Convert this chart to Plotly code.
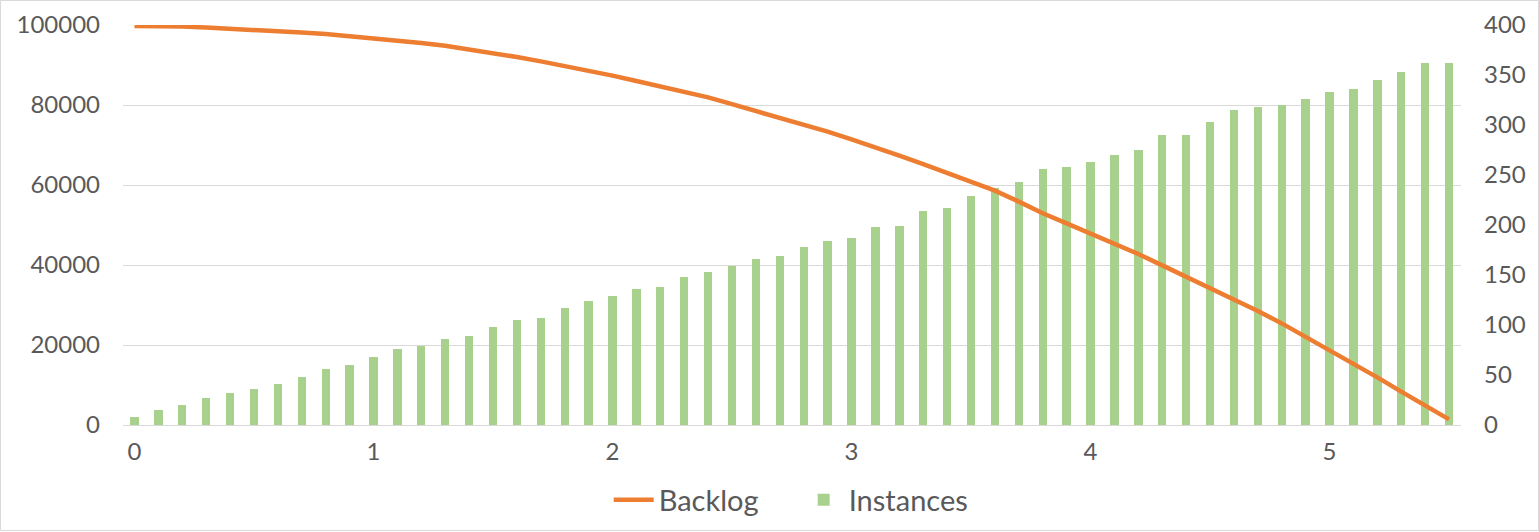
import plotly.graph_objects as go

# ---- data ----
time_points = [round(i * 0.1, 1) for i in range(56)]
instances = [8, 15, 20, 27, 32, 36, 41, 48, 56, 60,
             68, 76, 79, 86, 89, 98, 105, 107, 117, 124,
             129, 136, 138, 148, 153, 159, 166, 169, 178, 184,
             187, 198, 199, 214, 217, 229, 237, 243, 256, 258,
             263, 270, 275, 290, 290, 303, 315, 318, 320, 326,
             333, 336, 345, 353, 362, 362]
backlog = [99750, 99750, 99600, 99350, 99100, 98850, 98500, 98100, 97750, 97250,
           96750, 96200, 95500, 94800, 93950, 93100, 92000, 90900, 89750, 88550,
           87350, 86000, 84650, 83250, 81900, 80200, 78500, 76850, 75150, 73350,
           71400, 69500, 67350, 65200, 63000, 60900, 58600, 55850, 52950, 50400,
           47900, 45250, 42750, 39900, 37100, 34400, 31400, 28500, 25400, 22100,
           18600, 15250, 11900, 8350, 5000, 1400]
x_ticks = [0, 1, 2, 3, 4, 5]
left_ticks = [0, 20000, 40000, 60000, 80000, 100000]
right_ticks = [0, 50, 100, 150, 200, 250, 300, 350, 400]

FONT = "Lato"
TXT = "#595959"
GRID = "#D9D9D9"

fig = go.Figure()
fig.add_trace(go.Bar(
    x=time_points, y=instances, name="Instances", yaxis="y",
    marker=dict(color="#A9D18E", line=dict(width=0)), width=0.035,
    legendrank=2,
))
fig.add_trace(go.Scatter(
    x=time_points, y=backlog, name="Backlog", yaxis="y2", mode="lines",
    line=dict(color="#ED7D31", width=4.5), legendrank=1,
))

fig.update_layout(
    width=1539, height=532,
    margin=dict(l=123, r=78, t=25, b=107, autoexpand=False),
    paper_bgcolor="white", plot_bgcolor="white",
    font=dict(family=FONT, color=TXT, size=24),
    showlegend=True,
    legend=dict(orientation="h", x=0.505, xanchor="center", y=-0.1875, yanchor="middle",
                font=dict(size=29, color=TXT), itemwidth=40, tracegroupgap=0,
                entrywidth=135, entrywidthmode="pixels",
                bgcolor="rgba(0,0,0,0)"),
    bargap=0,
    xaxis=dict(range=[-0.048, 5.55], tickvals=x_ticks, ticktext=[str(v) for v in x_ticks],
               showgrid=False, zeroline=False, showline=False, ticks="", automargin=False,
               ticklabelstandoff=10, tickfont=dict(size=24, color=TXT)),
    yaxis=dict(range=[0, 400], tickvals=right_ticks, ticktext=[str(v) for v in right_ticks],
               side="right", automargin=False,
               showgrid=False, zeroline=False, showline=False, ticks="",
               ticklabelstandoff=22, tickfont=dict(size=24, color=TXT)),
    yaxis2=dict(range=[0, 100000], tickvals=left_ticks, ticktext=[str(v) for v in left_ticks],
                side="left", overlaying="y", automargin=False,
                showgrid=True, gridcolor=GRID, gridwidth=1.3,
                zeroline=True, zerolinecolor=GRID, zerolinewidth=1.3,
                showline=False, ticks="", ticklabelstandoff=22,
                tickfont=dict(size=24, color=TXT)),
    shapes=[dict(type="rect", xref="paper", yref="paper",
                 x0=(0.5 - 123) / 1338, x1=(1538.5 - 123) / 1338,
                 y0=(425 - 530.5) / 400, y1=(425 - 0.5) / 400,
                 line=dict(color=GRID, width=1), fillcolor="rgba(0,0,0,0)", layer="below")],
)

fig.write_html("out.html", config={"displayModeBar": False},
               post_script="document.body.style.margin='0';document.body.style.overflow='hidden';")
